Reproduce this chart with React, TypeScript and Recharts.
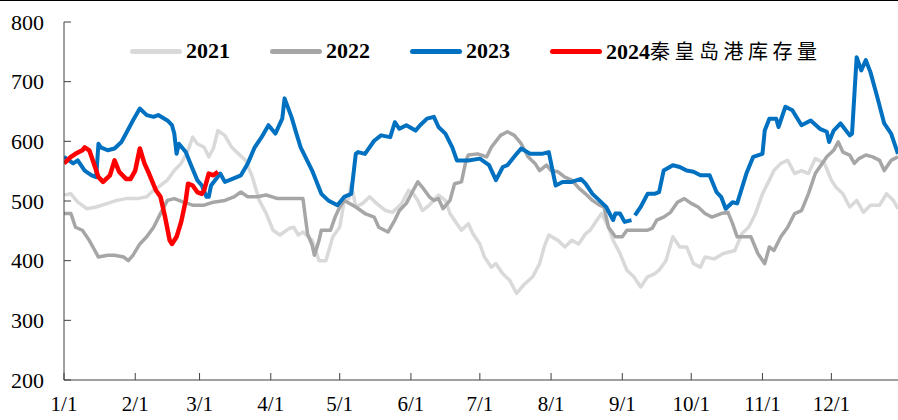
import React from "react";
import { LineChart, Line, XAxis, YAxis, Legend } from "recharts";

// Day-of-year tick positions and labels
const monthTickDays = [0, 31, 59, 90, 120, 151, 181, 212, 243, 273, 304, 334];
const monthTickLabels = ["1/1", "2/1", "3/1", "4/1", "5/1", "6/1", "7/1", "8/1", "9/1", "10/1", "11/1", "12/1"];
const yTicks = [200, 300, 400, 500, 600, 700, 800];

// 2021
const days2021 = [0, 3, 6, 10, 14, 19, 23, 27, 32, 36, 39, 42, 45, 48, 51, 54, 56, 58, 61, 63, 65, 67, 70, 73, 76, 79, 82, 85, 88, 91, 94, 98, 100, 102, 104, 108, 111, 114, 117, 120, 122, 124, 125, 127, 130, 133, 136, 140, 143, 147, 150, 152, 154, 156, 159, 163, 166, 168, 171, 173, 176, 178, 181, 183, 186, 188, 191, 194, 197, 200, 204, 207, 209, 211, 215, 218, 221, 224, 227, 229, 232, 234, 237, 239, 242, 245, 248, 251, 254, 257, 259, 262, 265, 268, 271, 274, 277, 279, 283, 287, 292, 295, 298, 301, 304, 307, 309, 312, 315, 318, 321, 324, 327, 331, 334, 336, 339, 342, 345, 348, 351, 355, 358, 361, 363];
const values2021 = [510, 512, 498, 487, 490, 496, 501, 504, 504, 507, 518, 526, 535, 551, 563, 585, 607, 596, 590, 574, 588, 618, 610, 590, 579, 568, 540, 501, 479, 451, 443, 454, 456, 443, 448, 434, 400, 400, 440, 456, 501, 504, 529, 490, 496, 507, 496, 484, 481, 496, 518, 512, 501, 484, 493, 510, 501, 479, 462, 451, 462, 445, 428, 406, 389, 395, 378, 367, 345, 359, 373, 395, 423, 443, 434, 423, 434, 428, 445, 451, 468, 479, 456, 434, 412, 384, 373, 356, 373, 378, 384, 400, 440, 423, 423, 395, 389, 406, 403, 412, 417, 445, 456, 479, 512, 535, 551, 563, 568, 546, 551, 546, 571, 563, 535, 523, 512, 490, 501, 481, 493, 493, 512, 501, 487];

// 2022
const days2022 = [0, 3, 5, 8, 11, 13, 15, 19, 22, 26, 28, 30, 33, 36, 39, 42, 45, 48, 52, 56, 61, 65, 70, 74, 77, 80, 84, 88, 93, 100, 104, 106, 108, 109, 111, 112, 114, 116, 118, 120, 122, 127, 131, 135, 137, 141, 144, 146, 149, 152, 154, 156, 159, 161, 163, 165, 168, 170, 173, 175, 176, 180, 184, 186, 190, 193, 196, 199, 202, 205, 207, 210, 212, 215, 218, 221, 224, 227, 230, 233, 235, 237, 240, 243, 245, 249, 254, 256, 258, 261, 264, 267, 270, 273, 276, 279, 282, 286, 289, 291, 293, 296, 299, 302, 305, 307, 309, 312, 315, 318, 321, 324, 327, 330, 332, 335, 337, 339, 342, 344, 346, 349, 352, 355, 357, 360, 363];
const values2022 = [479, 479, 456, 451, 434, 420, 406, 409, 409, 406, 400, 409, 428, 440, 456, 479, 501, 504, 498, 493, 493, 498, 501, 507, 515, 507, 507, 510, 504, 504, 504, 445, 426, 409, 434, 451, 451, 451, 473, 490, 501, 490, 479, 473, 456, 448, 468, 484, 496, 518, 532, 523, 507, 501, 504, 487, 501, 529, 532, 568, 577, 579, 574, 590, 610, 616, 610, 596, 574, 563, 551, 560, 551, 549, 540, 535, 522, 512, 501, 493, 490, 456, 440, 440, 451, 451, 451, 454, 468, 473, 481, 498, 504, 496, 490, 479, 473, 479, 481, 462, 440, 440, 440, 412, 395, 423, 417, 440, 456, 479, 484, 512, 546, 563, 574, 585, 599, 582, 577, 563, 571, 577, 574, 568, 551, 568, 574];

// 2023 (null marks the break in the line)
const days2023 = [0, 4, 6, 9, 12, 14, 15, 16, 19, 22, 25, 27, 30, 33, 36, 39, 41, 45, 47, 48, 49, 50, 53, 55, 58, 60, 62, 63, 64, 68, 70, 72, 77, 80, 83, 86, 89, 92, 95, 96, 99, 101, 103, 108, 112, 115, 119, 122, 125, 127, 128, 131, 135, 138, 142, 144, 146, 149, 153, 155, 158, 161, 163, 166, 169, 171, 176, 181, 185, 188, 191, 193, 197, 199, 203, 208, 211, 214, 217, 221, 225, 227, 230, 233, 236, 239, 240, 242, 244, 247, 247.8, 248.5, 251, 254, 257, 259, 261, 265, 268, 271, 274, 277, 281, 284, 286, 288, 291, 293, 297, 300, 304, 305, 307, 310, 311, 314, 317, 321, 325, 329, 332, 333, 335, 338, 342, 343, 345, 347, 349, 351, 354, 357, 360, 363];
const values2023 = [574, 563, 568, 551, 543, 540, 596, 590, 585, 588, 599, 613, 635, 655, 644, 641, 644, 635, 627, 613, 579, 596, 582, 563, 535, 526, 507, 507, 526, 546, 532, 535, 543, 563, 590, 607, 627, 613, 638, 672, 641, 615, 590, 551, 512, 501, 493, 507, 512, 579, 582, 579, 601, 610, 607, 632, 621, 627, 618, 627, 638, 641, 624, 613, 590, 568, 568, 571, 560, 535, 557, 560, 579, 588, 579, 579, 582, 526, 532, 532, 537, 529, 512, 501, 490, 468, 479, 479, 465, 468, null, 476, 490, 512, 512, 515, 551, 560, 557, 551, 549, 543, 543, 515, 507, 487, 498, 496, 546, 574, 579, 618, 638, 638, 624, 658, 652, 627, 635, 621, 616, 599, 618, 630, 610, 613, 741, 719, 736, 716, 674, 630, 613, 579];

// 2024 秦皇岛港库存量
const days2024 = [0, 3, 5, 8, 9, 11, 13, 15, 17, 20, 22, 24, 27, 29, 31, 33, 35, 37, 40, 42, 44, 46, 47, 49, 51, 53, 54, 56, 58, 60, 61, 63, 65, 67];
const values2024 = [563, 574, 579, 585, 590, 585, 563, 540, 532, 543, 568, 549, 537, 537, 551, 588, 563, 546, 518, 507, 473, 434, 428, 440, 465, 501, 529, 526, 515, 512, 518, 546, 543, 549];

const build = (days: number[], values: (number | null)[]) => days.map((d, i) => ({ d, v: values[i] }));

const series = [
  { name: "2021", data: build(days2021, values2021), color: "#d9d9d9", width: 3.5 },
  { name: "2022", data: build(days2022, values2022), color: "#a6a6a6", width: 3.5 },
  { name: "2023", data: build(days2023, values2023), color: "#0070c0", width: 4 },
  { name: "2024秦皇岛港库存量", data: build(days2024, values2024), color: "#ff0000", width: 4.5 },
];

const SERIF = "'Liberation Serif', 'Times New Roman', serif";
const AXIS_COLOR = "#404040";

const YTick = (props: any) => {
  const { x, y, payload } = props;
  return (
    <g>
      <text x={x} y={y} dy="0.35em" textAnchor="end" style={{ fontFamily: SERIF, fontSize: 22 }} fill="#000">
        {payload.value}
      </text>
      <line x1={x + 20} x2={x + 27} y1={y} y2={y} stroke={AXIS_COLOR} strokeWidth={1} />
    </g>
  );
};

const XTick = (props: any) => {
  const { x, y, payload } = props;
  const idx = monthTickDays.indexOf(payload.value);
  return (
    <g>
      <line x1={x} x2={x} y1={y - 20} y2={y - 27} stroke={AXIS_COLOR} strokeWidth={1} />
      <text x={x} y={y + 11} textAnchor="middle" style={{ fontFamily: SERIF, fontSize: 21 }} fill="#000">
        {idx >= 0 ? monthTickLabels[idx] : ""}
      </text>
    </g>
  );
};

const legendLeft = [130, 270, 410, 550];

const renderLegend = () => (
  <div style={{ position: "relative", width: 898, height: 30 }}>
    {series.map((s, i) => {
      const isLast = i === series.length - 1;
      return (
        <div key={s.name} style={{ position: "absolute", left: legendLeft[i], top: 0, height: 30, display: "flex", alignItems: "center", whiteSpace: "nowrap" }}>
          <div style={{ width: 52, height: 5, borderRadius: 3, background: s.color, marginRight: 4 }} />
          {isLast ? (
            <span style={{ fontFamily: SERIF, fontSize: 22, fontWeight: "bold", color: "#000", lineHeight: "30px" }}>
              2024
              <span style={{ fontFamily: "'Noto Sans CJK SC', sans-serif", fontWeight: 400, fontSize: 20, letterSpacing: 4.5 }}>秦皇岛港库存量</span>
            </span>
          ) : (
            <span style={{ fontFamily: SERIF, fontSize: 22, fontWeight: "bold", color: "#000", lineHeight: "30px" }}>{s.name}</span>
          )}
        </div>
      );
    })}
  </div>
);

export default function App() {
  return (
    <div style={{ position: "absolute", left: 0, top: 0, width: 898, height: 420, background: "#fff", overflow: "hidden", fontFamily: SERIF }}>
      <div style={{ position: "absolute", left: 0, top: 0, width: 898, height: 1, background: "#000", zIndex: 2 }} />
      <LineChart width={898} height={420} margin={{ top: 22, right: 0, bottom: 0, left: 0 }}>
        <XAxis
          type="number"
          dataKey="d"
          domain={[0, 363]}
          ticks={monthTickDays}
          interval={0}
          tickSize={0}
          tickMargin={20}
          height={40}
          stroke={AXIS_COLOR}
          tick={<XTick />}
          allowDataOverflow
        />
        <YAxis
          type="number"
          domain={[200, 800]}
          ticks={yTicks}
          interval={0}
          tickSize={0}
          tickMargin={20}
          width={64}
          stroke={AXIS_COLOR}
          tick={<YTick />}
        />
        <Legend
          layout="horizontal"
          verticalAlign="middle"
          align="center"
          content={renderLegend}
          wrapperStyle={{ top: 36, left: 0, width: 898 }}
        />
        {series.map((s) => (
          <Line
            key={s.name}
            data={s.data}
            dataKey="v"
            name={s.name}
            type="linear"
            stroke={s.color}
            strokeWidth={s.width}
            strokeLinejoin="round"
            dot={false}
            activeDot={false}
            isAnimationActive={false}
          />
        ))}
      </LineChart>
    </div>
  );
}
